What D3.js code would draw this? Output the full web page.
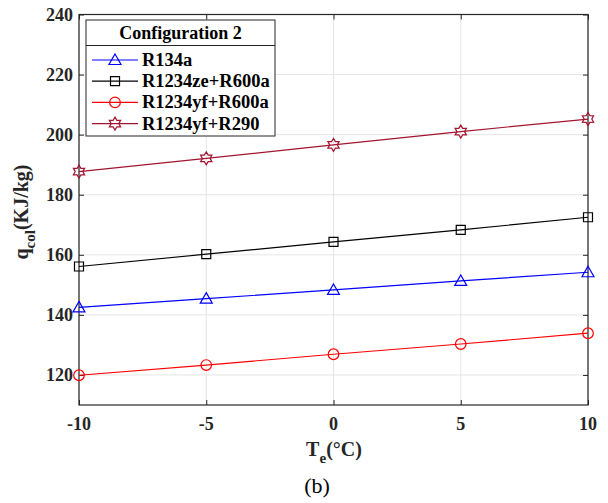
<!DOCTYPE html>
<html>
<head>
<meta charset="utf-8">
<script src="https://cdn.jsdelivr.net/npm/d3@7"></script>
<style>
  body { margin: 0; background: #fff; }
</style>
</head>
<body>
<div id="canvas"></div>
<script>
"use strict"

/* chart data */
let temps = [-10, -5, 0, 5, 10];
let seriesNames = ["R134a", "R1234ze+R600a", "R1234yf+R600a", "R1234yf+R290"];
let r134a = [142.5, 145.4, 148.3, 151.3, 154.2];
let r1234zeR600a = [156.1, 160.2, 164.3, 168.3, 172.5];
let r1234yfR600a = [119.9, 123.3, 126.9, 130.3, 133.9];
let r1234yfR290 = [187.7, 192.1, 196.6, 201.0, 205.2];
let xTicks = [-10, -5, 0, 5, 10];
let yTicks = [120, 140, 160, 180, 200, 220, 240];

/* drawing config */
let svgWidth = 608;
let svgHeight = 503;
let plotLeft = 79, plotRight = 588, plotTop = 14.5, plotBottom = 405;
let fontFam = "'Liberation Serif', 'Times New Roman', Times, serif";

let svg = d3.select("#canvas")
    .append("svg")
    .attr("width", svgWidth)
    .attr("height", svgHeight)
    .style("font-family", fontFam);

let xScale = d3.scaleLinear()
    .domain([-10, 10])
    .range([plotLeft, plotRight]);

let yScale = d3.scaleLinear()
    .domain([110, 240])
    .range([plotBottom, plotTop]);

/* grid */
svg.append("g")
    .selectAll("line")
    .data(xTicks)
    .join("line")
    .attr("x1", d => xScale(d)).attr("x2", d => xScale(d))
    .attr("y1", plotTop).attr("y2", plotBottom)
    .attr("stroke", "#e5e5e5")
    .attr("stroke-width", 1);

svg.append("g")
    .selectAll("line")
    .data(yTicks)
    .join("line")
    .attr("x1", plotLeft).attr("x2", plotRight)
    .attr("y1", d => yScale(d)).attr("y2", d => yScale(d))
    .attr("stroke", "#e5e5e5")
    .attr("stroke-width", 1);

/* axes, ticks pointing inward like matlab */
let axisColor = "#262626";
let xAxis = svg.append("g")
    .attr("transform", "translate(0," + plotBottom + ")")
    .call(d3.axisTop(xScale).tickValues(xTicks).tickSize(5).tickFormat(""));
let xAxisTop = svg.append("g")
    .attr("transform", "translate(0," + plotTop + ")")
    .call(d3.axisBottom(xScale).tickValues(xTicks).tickSize(5).tickFormat(""));
let yAxis = svg.append("g")
    .attr("transform", "translate(" + plotLeft + ",0)")
    .call(d3.axisRight(yScale).tickValues(yTicks).tickSize(5).tickFormat(""));
let yAxisRight = svg.append("g")
    .attr("transform", "translate(" + plotRight + ",0)")
    .call(d3.axisLeft(yScale).tickValues(yTicks).tickSize(5).tickFormat(""));
[xAxis, xAxisTop, yAxis, yAxisRight].forEach(function (g) {
    g.select(".domain").remove();
    g.selectAll("line").attr("stroke", axisColor);
});

svg.append("rect")
    .attr("x", plotLeft).attr("y", plotTop)
    .attr("width", plotRight - plotLeft).attr("height", plotBottom - plotTop)
    .attr("fill", "none")
    .attr("stroke", axisColor)
    .attr("stroke-width", 1.2);

/* tick labels */
svg.append("g")
    .selectAll("text")
    .data(xTicks)
    .join("text")
    .attr("x", d => xScale(d))
    .attr("y", plotBottom + 25)
    .attr("text-anchor", "middle")
    .attr("font-family", fontFam)
    .attr("font-size", 18)
    .attr("font-weight", "bold")
    .attr("fill", axisColor)
    .text(d => d);

svg.append("g")
    .selectAll("text")
    .data(yTicks)
    .join("text")
    .attr("x", plotLeft - 6)
    .attr("y", d => yScale(d) + 6)
    .attr("text-anchor", "end")
    .attr("font-family", fontFam)
    .attr("font-size", 18)
    .attr("font-weight", "bold")
    .attr("fill", axisColor)
    .text(d => d);

/* axis labels */
let xLabel = svg.append("text")
    .attr("x", 334)
    .attr("y", 456)
    .attr("text-anchor", "middle")
    .attr("font-family", fontFam)
    .attr("font-size", 20)
    .attr("font-weight", "bold")
    .attr("fill", axisColor);
xLabel.append("tspan").text("T");
xLabel.append("tspan").attr("dy", 7).attr("font-size", 15).text("e");
xLabel.append("tspan").attr("dy", -7).text("(°C)");

let yLabel = svg.append("text")
    .attr("transform", "translate(28,212) rotate(-90)")
    .attr("text-anchor", "middle")
    .attr("font-family", fontFam)
    .attr("font-size", 20)
    .attr("font-weight", "bold")
    .attr("fill", axisColor);
yLabel.append("tspan").text("q");
yLabel.append("tspan").attr("dy", 7).attr("font-size", 15).text("col");
yLabel.append("tspan").attr("dy", -7).text("(KJ/kg)");

svg.append("text")
    .attr("x", 317)
    .attr("y", 493)
    .attr("text-anchor", "middle")
    .attr("font-family", fontFam)
    .attr("font-size", 22)
    .attr("fill", "#000")
    .text("(b)");

/* series */
let seriesValues = [r134a, r1234zeR600a, r1234yfR600a, r1234yfR290];
let colors = ["#0000ff", "#000000", "#ff0000", "#a2142f"];
let markers = ["triangle", "square", "circle", "hexagram"];

function markerPath(type) {
    if (type === "triangle") {
        return "M0,-6L6,4.5L-6,4.5Z";
    } else if (type === "square") {
        return "M-4.5,-4.5L4.5,-4.5L4.5,4.5L-4.5,4.5Z";
    } else if (type === "circle") {
        return "M5.3,0A5.3,5.3 0 1,1 -5.3,0A5.3,5.3 0 1,1 5.3,0Z";
    }
    /* six pointed star */
    let pts = [];
    for (let i = 0; i < 12; i++) {
        let r = (i % 2 === 0) ? 6.5 : 3.8;
        let a = Math.PI / 6 * i - Math.PI / 2;
        pts.push([r * Math.cos(a), r * Math.sin(a)]);
    }
    return "M" + pts.map(p => p[0].toFixed(2) + "," + p[1].toFixed(2)).join("L") + "Z";
}

let line = d3.line()
    .x((d, i) => xScale(temps[i]))
    .y(d => yScale(d));

seriesValues.forEach(function (vals, s) {
    svg.append("path")
        .attr("d", line(vals))
        .attr("fill", "none")
        .attr("stroke", colors[s])
        .attr("stroke-width", 1.2);
    svg.append("g")
        .selectAll("path")
        .data(vals)
        .join("path")
        .attr("transform", (d, i) => "translate(" + xScale(temps[i]) + "," + yScale(d) + ")")
        .attr("d", markerPath(markers[s]))
        .attr("fill", "none")
        .attr("stroke", colors[s])
        .attr("stroke-width", 1.2);
});

/* legend */
let legX = 86, legY = 20, legW = 189, legH = 116;
let legend = svg.append("g");
legend.append("rect")
    .attr("x", legX).attr("y", legY)
    .attr("width", legW).attr("height", legH)
    .attr("fill", "#fff")
    .attr("stroke", axisColor)
    .attr("stroke-width", 1);
legend.append("line")
    .attr("x1", legX).attr("x2", legX + legW)
    .attr("y1", 45.5).attr("y2", 45.5)
    .attr("stroke", axisColor)
    .attr("stroke-width", 1);
legend.append("text")
    .attr("x", legX + legW / 2)
    .attr("y", 39)
    .attr("text-anchor", "middle")
    .attr("font-family", fontFam)
    .attr("font-size", 18)
    .attr("font-weight", "bold")
    .attr("fill", "#000")
    .text("Configuration 2");

seriesNames.forEach(function (name, s) {
    let cy = 60 + s * 21.2;
    legend.append("line")
        .attr("x1", 92).attr("x2", 138)
        .attr("y1", cy).attr("y2", cy)
        .attr("stroke", colors[s])
        .attr("stroke-width", 1.2);
    legend.append("path")
        .attr("transform", "translate(115," + cy + ")")
        .attr("d", markerPath(markers[s]))
        .attr("fill", "none")
        .attr("stroke", colors[s])
        .attr("stroke-width", 1.2);
    legend.append("text")
        .attr("x", 142)
        .attr("y", cy + 6)
        .attr("font-family", fontFam)
        .attr("font-size", 18.5)
        .attr("font-weight", "bold")
        .attr("fill", "#000")
        .text(name);
});
</script>
</body>
</html>
